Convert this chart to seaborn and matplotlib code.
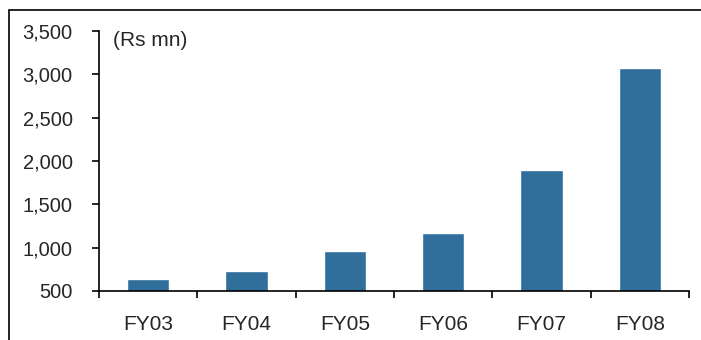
import matplotlib
matplotlib.use("Agg")
import matplotlib.pyplot as plt
import seaborn as sns
import pandas as pd
from matplotlib.ticker import FuncFormatter, FixedLocator
from matplotlib.patches import Rectangle

categories = ["FY03", "FY04", "FY05", "FY06", "FY07", "FY08"]
values = [638, 731, 962, 1169, 1896, 3073]
unit_label = "(Rs mn)"

sns.set_style("white")
plt.rcParams["font.family"] = ["Liberation Sans", "DejaVu Sans"]

df = pd.DataFrame({"year": categories, "value": values})

fig = plt.figure(figsize=(7.01, 3.40), dpi=100)
ax = fig.add_axes([99/701, 1-291/340, 590/701, 260/340])

sns.barplot(data=df, x="year", y="value", color="#306E9C", saturation=1,
            width=0.43, ax=ax)

ax.set_ylim(500, 3500)
ax.set_xlim(-0.5, len(categories)-0.5)
ax.set_yticks(range(500, 3501, 500))
ax.yaxis.set_major_formatter(FuncFormatter(lambda v, p: f"{int(v):,}"))
ax.set_xlabel("")
ax.set_ylabel("")

for s in ["top", "right"]:
    ax.spines[s].set_visible(False)
for s in ["left", "bottom"]:
    ax.spines[s].set_color("black")
    ax.spines[s].set_linewidth(1.2)

ax.tick_params(axis="y", which="major", direction="out", length=5, width=1.2,
               color="black", labelsize=14.5, pad=14, left=True)
ax.tick_params(axis="x", which="major", length=0, labelsize=15, pad=17.5)
ax.xaxis.set_minor_locator(FixedLocator([i - 0.5 for i in range(len(categories)+1)]))
ax.tick_params(axis="x", which="minor", direction="out", length=5, width=1.2,
               color="black", bottom=True)

ax.text(0.024, 0.962, unit_label, transform=ax.transAxes, fontsize=15,
        ha="left", va="center")

fig.patches.append(Rectangle((9/701, -0.5), 1.5, 0.5 + (340-10.5)/340,
                             transform=fig.transFigure, fill=False,
                             edgecolor="black", linewidth=1.2))

fig.savefig("out.png", dpi=100)
